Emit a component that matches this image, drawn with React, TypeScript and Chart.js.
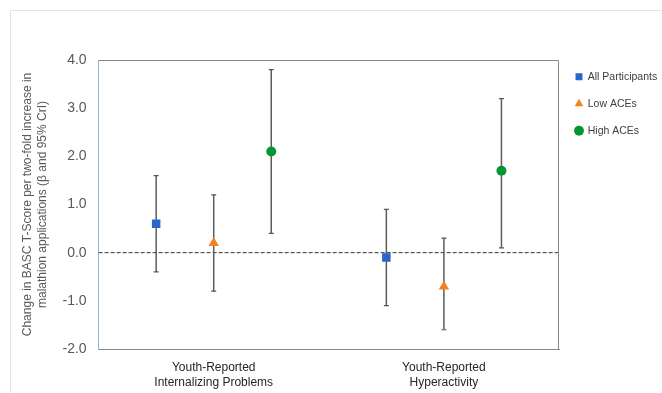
import React, { useEffect, useRef } from "react";
import { Chart, registerables } from "chart.js";

Chart.register(...registerables);

// ---- Data ----
const categories: string[][] = [
  ["Youth-Reported", "Internalizing Problems"],
  ["Youth-Reported", "Hyperactivity"],
];
const seriesNames = ["All Participants", "Low ACEs", "High ACEs"];

const allEstimate = [0.6, -0.1];
const allLower = [-0.4, -1.1];
const allUpper = [1.6, 0.9];

const lowEstimate = [0.2, -0.7];
const lowLower = [-0.8, -1.6];
const lowUpper = [1.2, 0.3];

const highEstimate = [2.1, 1.7];
const highLower = [0.4, 0.1];
const highUpper = [3.8, 3.2];

const yMin = -2;
const yMax = 4;
const yStep = 1;
const yTitle = [
  "Change in BASC T-Score per two-fold increase in",
  "malathion applications (β and 95% CrI)",
];

// ---- Styles ----
const FONT = "'Liberation Sans', Arial, sans-serif";
const seriesColors = ["#2a66c7", "#f7801e", "#059634"];
const seriesStyles = ["rect", "triangle", "circle"];
const seriesRadius = [6, 6, 5];
const groupOffsets = [-0.25, 0, 0.25];

export default function App() {
  const ref = useRef<HTMLCanvasElement | null>(null);

  useEffect(() => {
    const canvas = ref.current;
    if (!canvas) return;

    const estimates = [allEstimate, lowEstimate, highEstimate];
    const lowers = [allLower, lowLower, highLower];
    const uppers = [allUpper, lowUpper, highUpper];

    const markerSets = seriesNames.map((name, s) => ({
      type: "scatter" as const,
      label: name,
      data: estimates[s].map((v, c) => ({ x: c + 0.5 + groupOffsets[s], y: v })),
      backgroundColor: seriesColors[s],
      borderColor: seriesColors[s],
      pointStyle: seriesStyles[s],
      pointRadius: seriesRadius[s],
      pointBorderWidth: 0,
      order: 0,
    }));

    const whiskerData: { x: number; y: number | null }[] = [];
    seriesNames.forEach((_, s) => {
      categories.forEach((__, c) => {
        const x = c + 0.5 + groupOffsets[s];
        whiskerData.push({ x, y: lowers[s][c] });
        whiskerData.push({ x, y: uppers[s][c] });
        whiskerData.push({ x, y: null });
      });
    });

    const whiskers = {
      type: "line" as const,
      label: "__ci",
      data: whiskerData,
      borderColor: "#5c5c5c",
      borderWidth: 1.5,
      pointStyle: "line",
      pointRadius: 2.5,
      pointBorderWidth: 1.2,
      pointBorderColor: "#555555",
      pointBackgroundColor: "#555555",
      spanGaps: false,
      fill: false,
      order: 1,
    };

    const zeroLine = {
      type: "line" as const,
      label: "__zero",
      data: [
        { x: 0, y: 0 },
        { x: categories.length, y: 0 },
      ],
      borderColor: "#333333",
      borderWidth: 1,
      borderDash: [4, 2],
      pointRadius: 0,
      fill: false,
      order: 2,
    };

    const framePlugin = {
      id: "frames",
      beforeDraw(chart: any) {
        const ctx = chart.ctx;
        ctx.save();
        ctx.strokeStyle = "#e4e4e4";
        ctx.lineWidth = 1;
        ctx.strokeRect(10.5, 10.5, 1000, 1000);
        ctx.restore();
      },
      afterDraw(chart: any) {
        const { ctx, chartArea } = chart;
        ctx.save();
        ctx.strokeStyle = "#878787";
        ctx.lineWidth = 1;
        ctx.beginPath();
        const t = Math.round(chartArea.top) + 0.5;
        const r = Math.round(chartArea.right) - 0.5;
        const b = Math.round(chartArea.bottom);
        ctx.moveTo(Math.round(chartArea.left), t);
        ctx.lineTo(r, t);
        ctx.lineTo(r, b);
        ctx.stroke();
        ctx.restore();
      },
    };

    const chart = new Chart(canvas, {
      data: { datasets: [...markerSets, whiskers, zeroLine] as any },
      plugins: [framePlugin],
      options: {
        animation: false,
        responsive: false,
        font: { family: FONT },
        layout: { padding: { top: 55, left: 16, bottom: -9, right: 0 } },
        plugins: {
          title: {
            display: true,
            text: "",
            padding: { top: 4, bottom: 0 },
            font: { size: 1, lineHeight: 1 },
          },
          tooltip: { enabled: false },
          legend: {
            display: true,
            position: "right",
            align: "start",
            maxWidth: 103,
            labels: {
              usePointStyle: true,
              boxWidth: 7,
              boxHeight: 7,
              padding: 16.5,
              color: "#404040",
              font: { family: FONT, size: 10.5 },
              filter: (item: any) => !String(item.text).startsWith("__"),
            },
          },
        },
        scales: {
          x: {
            type: "linear",
            min: 0,
            max: categories.length,
            grid: { display: false, drawTicks: false },
            border: { display: true, color: "#878787", width: 1 },
            afterBuildTicks: (scale: any) => {
              scale.ticks = categories.map((_, i) => ({ value: i + 0.5 }));
            },
            ticks: {
              maxRotation: 0,
              autoSkip: false,
              padding: 11.5,
              color: "#262626",
              font: { family: FONT, size: 12, lineHeight: 1.25 },
              callback: (_v: any, i: number) => categories[i],
            },
          },
          y: {
            type: "linear",
            min: yMin,
            max: yMax,
            grid: { display: false, drawTicks: false },
            border: { display: true, color: "#8fb4e3", width: 1 },
            ticks: {
              stepSize: yStep,
              padding: 12,
              color: "#595959",
              font: { family: FONT, size: 14 },
              callback: (v: any) => Number(v).toFixed(1),
            },
            title: {
              display: true,
              text: yTitle,
              color: "#595959",
              padding: { top: 4, bottom: 0.5 },
              font: { family: FONT, size: 12, lineHeight: 1.25 },
            },
          },
        },
      } as any,
    });

    return () => chart.destroy();
  }, []);

  return (
    <div style={{ position: "absolute", left: 0, top: 0, width: 662, height: 393, background: "#fff" }}>
      <canvas ref={ref} width={662} height={393} style={{ display: "block" }} />
    </div>
  );
}
